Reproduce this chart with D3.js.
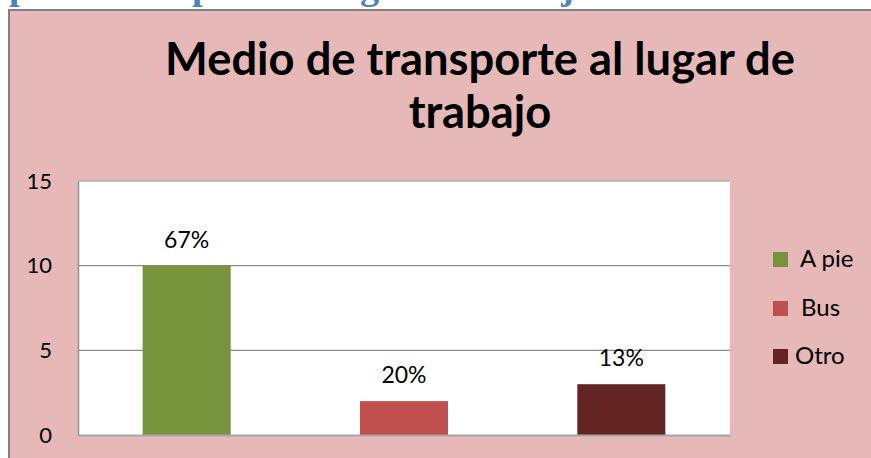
<!DOCTYPE html>
<html><head><meta charset="utf-8">
<script src="https://cdn.jsdelivr.net/npm/d3@7"></script>
<style>
html,body{margin:0;padding:0;background:#fff;overflow:hidden}
svg{display:block}
text{font-family:Lato,"Open Sans",sans-serif}
</style></head>
<body>
<svg id="c" width="871" height="458"></svg>
<script>
const categories = ["A pie", "Bus", "Otro"];
const values = [10, 2, 3];
const labels = ["67%", "20%", "13%"];
const yTicks = [0, 5, 10, 15];
const colors = ["#77933C", "#C0504D", "#632523"];
const titleLines = ["Medio de transporte al lugar de", "trabajo"];
const headerText = "Tipo de transporte al lugar de trabajo";

const svg = d3.select("#c");

// document heading, mostly cut off at top (as in the reference)
const hdr = svg.append("text")
  .attr("x", 0).attr("y", -2)
  .style("font-family", "'Liberation Serif',serif")
  .style("font-weight", "bold")
  .style("font-size", "34px")
  .attr("fill", "#4F81BD")
  .text(headerText);
{
  const node = hdr.node();
  const i1 = headerText.indexOf("p");
  const i2 = headerText.indexOf("p", i1 + 1);
  const d = node.getSubStringLength(0, i2) - node.getSubStringLength(0, i1);
  const fs = 34 * 183 / d;
  hdr.style("font-size", fs + "px").attr("y", -1.5);
  const off = node.getSubStringLength(0, i1);
  hdr.attr("x", 9 - off);
}

// chart area
svg.append("rect").attr("x", 9).attr("y", 10).attr("width", 900).attr("height", 500)
  .attr("fill", "#E6B8B7").attr("stroke", "#808080").attr("stroke-width", 2);

// title
const title = svg.append("text").attr("text-anchor", "middle")
  .style("font-weight", "bold").attr("fill", "#000");
title.append("tspan").attr("x", 480).attr("y", 75).text(titleLines[0]);
title.append("tspan").attr("x", 480).attr("y", 128).text(titleLines[1]);
{
  title.style("font-size", "40px");
  const w = title.select("tspan").node().getComputedTextLength();
  title.style("font-size", (40 * 630 / w) + "px");
}

// plot
const x0 = 78, x1 = 730, yTop = 181, yBot = 435;
const x = d3.scaleBand().domain(categories).range([x0, x1]).paddingInner(0.595).paddingOuter(0.2975);
const y = d3.scaleLinear().domain([0, 15]).range([yBot, yTop]);

svg.append("rect").attr("x", x0).attr("y", yTop).attr("width", x1 - x0).attr("height", yBot - yTop).attr("fill", "#fff");

// gridlines
svg.append("g").selectAll("line").data(yTicks.filter(d => d > 0)).join("line")
  .attr("x1", x0).attr("x2", x1)
  .attr("y1", d => y(d)).attr("y2", d => y(d))
  .attr("stroke", d => d === 15 ? "#B0B0B0" : "#8C8C8C").attr("stroke-width", 1.3);

// bars
svg.append("g").selectAll("rect").data(values).join("rect")
  .attr("x", (d, i) => x(categories[i]))
  .attr("width", x.bandwidth())
  .attr("y", d => y(d))
  .attr("height", d => y(0) - y(d))
  .attr("fill", (d, i) => colors[i]);

// axes
const yAxis = svg.append("g").attr("transform", `translate(${x0},0)`)
  .call(d3.axisLeft(y).tickValues(yTicks).tickSize(0).tickPadding(26));
yAxis.select(".domain").attr("stroke", "#969696").attr("stroke-width", 1.5);
yAxis.selectAll("text").style("font-size", "22px").style("font-family", "Lato,sans-serif").attr("fill", "#000");

const xAxis = svg.append("g").attr("transform", `translate(0,${yBot})`)
  .call(d3.axisBottom(x).tickSize(0).tickFormat(""));
xAxis.select(".domain").attr("stroke", "#A6A6A6").attr("stroke-width", 2);

// data labels
svg.append("g").selectAll("text").data(values).join("text")
  .attr("x", (d, i) => x(categories[i]) + x.bandwidth() / 2)
  .attr("y", d => y(d) - 18)
  .attr("text-anchor", "middle")
  .style("font-size", "23px").attr("fill", "#000")
  .text((d, i) => labels[i]);

// legend
const leg = svg.append("g");
const legY = [259, 308, 356];
const legTx = [800, 801, 795];
categories.forEach((c, i) => {
  leg.append("rect").attr("x", 773).attr("y", legY[i] - 7).attr("width", 15).attr("height", 15).attr("fill", colors[i]);
  leg.append("text").attr("x", legTx[i]).attr("y", legY[i] + 8)
    .style("font-size", "24px").attr("fill", "#000").text(c);
});
</script>
</body></html>
